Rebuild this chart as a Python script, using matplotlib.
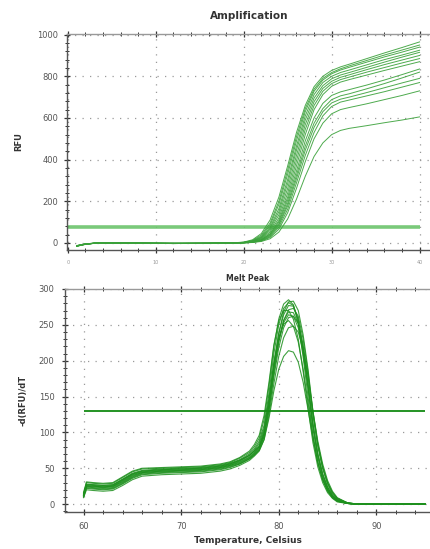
import matplotlib
matplotlib.use("Agg")
import matplotlib.pyplot as plt
from matplotlib.ticker import MultipleLocator

# ---------------- data ----------------
cycles = [1, 2, 3, 5, 8, 12, 16, 19, 20, 21, 22, 23, 24, 25, 26, 27, 28, 29, 30, 31, 32, 34, 36, 38, 40]

amp_baselines = [
    [-16, -6, -2, 0, -1, -2, -2, 1],
    [-14, -5, -1, 0, -2, -3, -2, 0],
    [-15, -7, -2, 1, -1, -2, -1, 1],
    [-13, -5, -1, 0, -1, -3, -2, 0],
    [-15, -6, -2, 0, -2, -2, -2, 0],
    [-14, -6, -1, 1, -1, -3, -2, 0],
    [-16, -7, -2, 0, -1, -2, -1, 0],
    [-13, -5, -2, 0, -2, -2, -2, 0],
    [-15, -6, -1, 0, -1, -3, -2, 0],
    [-14, -5, -2, 1, -1, -2, -2, 0],
    [-16, -6, -1, 0, -2, -3, -2, 0],
    [-14, -6, -2, 0, -1, -2, -1, 0],
    [-15, -5, -1, 0, -1, -2, -2, 0],
    [-13, -5, -2, 0, -1, -2, -2, 0],
]

amp_rise = [
    [4, 15, 45, 110, 220, 370, 530, 660, 750, 800, 828, 845, 858, 885, 912, 938, 965],
    [3, 12, 38, 95, 200, 350, 510, 645, 738, 790, 818, 836, 850, 876, 902, 926, 950],
    [3, 10, 32, 85, 185, 330, 490, 630, 728, 782, 812, 830, 843, 868, 893, 916, 940],
    [2, 9, 28, 75, 165, 305, 465, 610, 712, 770, 800, 818, 830, 855, 880, 902, 925],
    [2, 8, 25, 68, 150, 285, 445, 590, 695, 755, 788, 806, 818, 843, 868, 892, 915],
    [2, 7, 22, 60, 135, 262, 420, 568, 678, 742, 776, 795, 807, 832, 856, 878, 900],
    [1, 6, 19, 52, 120, 240, 395, 545, 660, 728, 765, 784, 796, 820, 842, 864, 885],
    [1, 5, 16, 45, 108, 220, 370, 520, 640, 712, 752, 772, 784, 806, 828, 849, 870],
    [1, 5, 15, 42, 100, 205, 345, 490, 600, 670, 708, 725, 736, 758, 782, 808, 835],
    [1, 4, 13, 38, 92, 190, 325, 465, 575, 645, 688, 706, 716, 740, 765, 792, 820],
    [1, 4, 12, 34, 85, 178, 308, 445, 555, 630, 672, 690, 700, 722, 745, 768, 790],
    [0, 3, 10, 30, 76, 162, 288, 420, 530, 610, 655, 676, 686, 706, 726, 748, 770],
    [0, 3, 9, 26, 66, 145, 262, 390, 500, 575, 620, 640, 650, 668, 688, 708, 730],
    [0, 2, 7, 20, 52, 115, 210, 320, 415, 480, 520, 540, 550, 563, 577, 590, 605],
]
amp_threshold = 75
amp_xticks = [0, 10, 20, 30, 40]
amp_yticks = [0, 200, 400, 600, 800, 1000]

temps = [60, 60.3, 61, 62, 63, 64, 65, 66, 68, 70, 72, 74, 75, 76, 77, 77.5, 78, 78.5,
         79, 79.5, 80, 80.5, 81, 81.5, 82, 82.5, 83, 83.5, 84, 84.5, 85, 85.5, 86, 87,
         88, 90, 92, 94, 95]
melt_curves = [
    [14, 30, 29, 28, 29, 37, 45, 49, 50, 51, 52, 55, 58, 64, 72, 80, 92, 118, 165, 220, 258, 279, 285, 278, 252, 205, 150, 96, 58, 34, 18, 9, 4, 1, 0, 0, 0, 0, 0],
    [12, 27, 27, 26, 27, 35, 43, 47, 49, 50, 51, 54, 57, 62, 70, 77, 88, 110, 155, 210, 250, 273, 281, 277, 256, 214, 162, 106, 65, 38, 21, 10, 5, 1, 0, 0, 0, 0, 0],
    [12, 26, 25, 24, 25, 33, 41, 45, 47, 48, 49, 52, 55, 60, 68, 74, 82, 103, 145, 198, 238, 264, 277, 276, 258, 218, 168, 112, 70, 42, 24, 12, 6, 1, 0, 0, 0, 0, 0],
    [11, 24, 23, 22, 23, 30, 38, 43, 45, 46, 47, 50, 53, 57, 64, 70, 77, 95, 132, 182, 225, 256, 271, 273, 262, 230, 184, 128, 84, 52, 30, 16, 8, 2, 0, 0, 0, 0, 0],
    [13, 25, 24, 23, 24, 32, 40, 44, 46, 47, 48, 51, 54, 59, 66, 72, 80, 100, 140, 190, 230, 256, 268, 267, 252, 214, 166, 112, 70, 42, 24, 12, 6, 1, 0, 0, 0, 0, 0],
    [10, 22, 21, 20, 21, 28, 36, 41, 43, 44, 45, 48, 51, 56, 63, 69, 76, 94, 130, 178, 218, 246, 260, 262, 252, 222, 178, 124, 80, 49, 28, 14, 7, 2, 0, 0, 0, 0, 0],
    [15, 28, 27, 26, 27, 34, 42, 46, 48, 49, 50, 53, 56, 61, 68, 75, 85, 106, 148, 196, 232, 251, 256, 248, 226, 188, 142, 95, 58, 34, 19, 9, 4, 1, 0, 0, 0, 0, 0],
    [9, 20, 19, 18, 19, 26, 34, 39, 41, 42, 43, 46, 49, 54, 61, 67, 74, 90, 124, 168, 206, 232, 246, 248, 240, 215, 178, 130, 88, 56, 33, 18, 9, 2, 0, 0, 0, 0, 0],
    [11, 23, 22, 21, 22, 29, 37, 42, 44, 45, 46, 49, 52, 56, 63, 68, 75, 90, 120, 158, 188, 206, 214, 212, 198, 170, 132, 92, 58, 35, 20, 10, 5, 1, 0, 0, 0, 0, 0],
    [13, 27, 26, 25, 26, 34, 42, 46, 48, 49, 50, 53, 56, 61, 68, 74, 80, 98, 138, 192, 238, 268, 282, 283, 270, 236, 188, 130, 84, 52, 30, 16, 8, 2, 0, 0, 0, 0, 0],
    [16, 31, 30, 29, 30, 38, 46, 50, 51, 52, 53, 56, 59, 65, 74, 83, 96, 124, 170, 222, 255, 270, 270, 258, 230, 185, 134, 86, 52, 30, 16, 8, 3, 1, 0, 0, 0, 0, 0],
    [12, 25, 25, 24, 25, 31, 39, 44, 46, 47, 48, 51, 54, 58, 65, 71, 79, 98, 138, 188, 228, 253, 264, 262, 246, 210, 163, 110, 68, 40, 22, 11, 5, 1, 0, 0, 0, 0, 0],
]
melt_threshold = 130
melt_xticks = [60, 70, 80, 90]
melt_yticks = [0, 50, 100, 150, 200, 250, 300]

# ---------------- figure ----------------
W, H = 431, 549
fig = plt.figure(figsize=(W / 100, H / 100), dpi=100)
fig.patch.set_facecolor("white")

def px_axes(l, t, r, b):
    return fig.add_axes([l / W, 1 - b / H, (r - l) / W, (b - t) / H])

grid_kw = dict(color="#9a9a9a", linestyle=(0, (1, 5)), linewidth=0.9)

def style(ax):
    for s in ["left", "bottom", "top"]:
        ax.spines[s].set_color("#555555")
        ax.spines[s].set_linewidth(1.0)
    ax.spines["top"].set_color("#999999")
    ax.spines["right"].set_visible(False)
    ax.tick_params(which="major", direction="inout", length=5, width=0.9,
                   color="#333333", labelsize=6, labelcolor="#555555", top=True)
    ax.tick_params(which="minor", direction="inout", length=3, width=0.7,
                   color="#333333", top=True)
    ax.grid(True, which="major", **grid_kw)
    ax.set_axisbelow(True)

# ---- top: amplification ----
ax1 = px_axes(67, 34, 431, 250)
style(ax1)
amp_color = "#3aa13a"
for base, rise in zip(amp_baselines, amp_rise):
    ax1.plot(cycles, base + rise, color=amp_color, lw=0.7, alpha=0.9)
ax1.hlines(amp_threshold, 0, 40, color="#6cc46c", lw=2.6, alpha=0.9, zorder=1)
ax1.set_xlim(-0.1, 41.3)
ax1.set_ylim(-34, 1003)
ax1.set_xticks(amp_xticks)
ax1.set_yticks(amp_yticks)
ax1.xaxis.set_minor_locator(MultipleLocator(2))
ax1.yaxis.set_minor_locator(MultipleLocator(40))
ax1.tick_params(axis="x", labelsize=3.5, labelcolor="#999999", pad=5)
ax1.tick_params(axis="y", pad=4)
ax1.set_title("Amplification", fontsize=7.5, fontweight="bold", color="#333333", pad=11)
ax1.set_ylabel("RFU", fontsize=6, fontweight="bold", color="#333333", labelpad=10)

# ---- bottom: melt peak ----
ax2 = px_axes(65, 289, 431, 512)
style(ax2)
melt_color = "#1e901e"
for vals in melt_curves:
    ax2.plot(temps, vals, color=melt_color, lw=0.8, alpha=0.85)
ax2.hlines(melt_threshold, 60, 95, color="#138a13", lw=1.3, zorder=3)
ax2.set_xlim(58.1, 95.6)
ax2.set_ylim(-11, 300)
ax2.set_xticks(melt_xticks)
ax2.set_yticks(melt_yticks)
ax2.xaxis.set_minor_locator(MultipleLocator(2))
ax2.yaxis.set_minor_locator(MultipleLocator(10))
ax2.tick_params(axis="x", pad=5)
ax2.tick_params(axis="y", pad=5)
ax2.set_title("Melt Peak", fontsize=5.5, fontweight="bold", color="#333333", pad=6)
ax2.set_ylabel("-d(RFU)/dT", fontsize=6, fontweight="bold", color="#333333", labelpad=8)
ax2.set_xlabel("Temperature, Celsius", fontsize=6.5, fontweight="bold", color="#333333", labelpad=3)

fig.savefig("out.png", dpi=100, facecolor="white")
